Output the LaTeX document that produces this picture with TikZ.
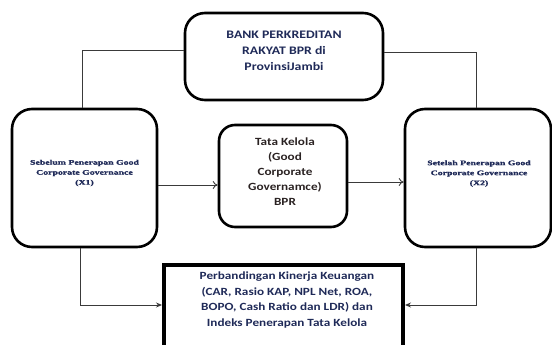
\documentclass[tikz,border=0pt]{standalone}
\usepackage{fontspec}
\setmainfont{Carlito}
\newfontfamily\boxsans[FakeStretch=1.2]{Carlito}
\newfontfamily\boxserif[FakeStretch=1.4,FakeBold=1.5]{Liberation Serif}
\usetikzlibrary{arrows.meta}
\definecolor{navy}{HTML}{1F2A58}
\definecolor{darktxt}{HTML}{2A2222}
\definecolor{connc}{HTML}{3A3A3A}
\tikzset{
  roundbox/.style={draw=black, line width=2.6pt, rounded corners=20pt, inner sep=0pt},
  squarebox/.style={draw=black, line width=4pt, inner sep=0pt},
  bigtext/.style={font=\boxsans\bfseries\fontsize{11}{15.5}\selectfont, align=center, inner sep=0pt},
  smalltext/.style={font=\boxserif\bfseries\fontsize{7}{10}\selectfont, align=center, inner sep=0pt, text=navy},
  conn/.style={draw=connc, line width=0.9pt},
}
\begin{document}
\begin{tikzpicture}[x=1pt,y=-1pt]
\useasboundingbox (0,0) rectangle (552,345);
\clip (0,0) rectangle (552,345);
% boxes
\node[roundbox, minimum width=198pt, minimum height=87pt] (top) at (284,56.5) {};
\node[roundbox, minimum width=145pt, minimum height=138pt] (left) at (84.5,178) {};
\node[roundbox, minimum width=146pt, minimum height=138pt] (right) at (478,178) {};
\node[roundbox, rounded corners=16pt, minimum width=128pt, minimum height=102pt] (mid) at (283,176) {};
\node[squarebox, minimum width=239pt, minimum height=95pt] (bot) at (283.5,312) {};
% texts
\node[bigtext, text=navy, font=\boxsans\bfseries\fontsize{11.5}{16}\selectfont] (toptext) at (284,51) {BANK PERKREDITAN\\RAKYAT BPR di\\ProvinsiJambi};
\node[smalltext] (lefttext) at (84.5,173) {Sebelum Penerapan Good\\Corporate Governance\\(X1)};
\node[smalltext] (righttext) at (479,173.5) {Setelah Penerapan Good\\Corporate Governance\\(X2)};
\node[bigtext, text=darktxt, font=\boxsans\bfseries\fontsize{11}{15}\selectfont] (midtext) at (285,172) {Tata Kelola\\(Good\\Corporate\\Governamce)\\BPR};
\node[bigtext, text=navy] (bottext) at (287,300) {Perbandingan Kinerja Keuangan\\(CAR, Rasio KAP, NPL Net, ROA,\\BOPO, Cash Ratio dan LDR) dan\\Indeks Penerapan Tata Kelola};
% connectors
\draw[conn] ([yshift=6.5pt]top.west) -| ([xshift=-2.5pt]left.north);
\draw[conn] ([yshift=4.5pt]top.east) -| ([xshift=-2pt]right.north);
\draw[conn, -{To[length=5pt,width=8pt]}] ([yshift=-7pt]left.east) -- ([yshift=-7pt]left.east -| mid.west);
\draw[conn, -{To[length=5pt,width=8pt]}] ([yshift=-6pt]mid.east) -- ([yshift=-6pt]mid.east -| right.west);
\draw[conn, -{Stealth[length=6pt,width=5pt]}] ([xshift=-4.5pt]left.south) |- ([yshift=7pt]bot.west);
\draw[conn, -{Stealth[length=6pt,width=5pt]}] ([xshift=-2pt]right.south) |- ([yshift=7pt]bot.east);
\end{tikzpicture}
\end{document}
